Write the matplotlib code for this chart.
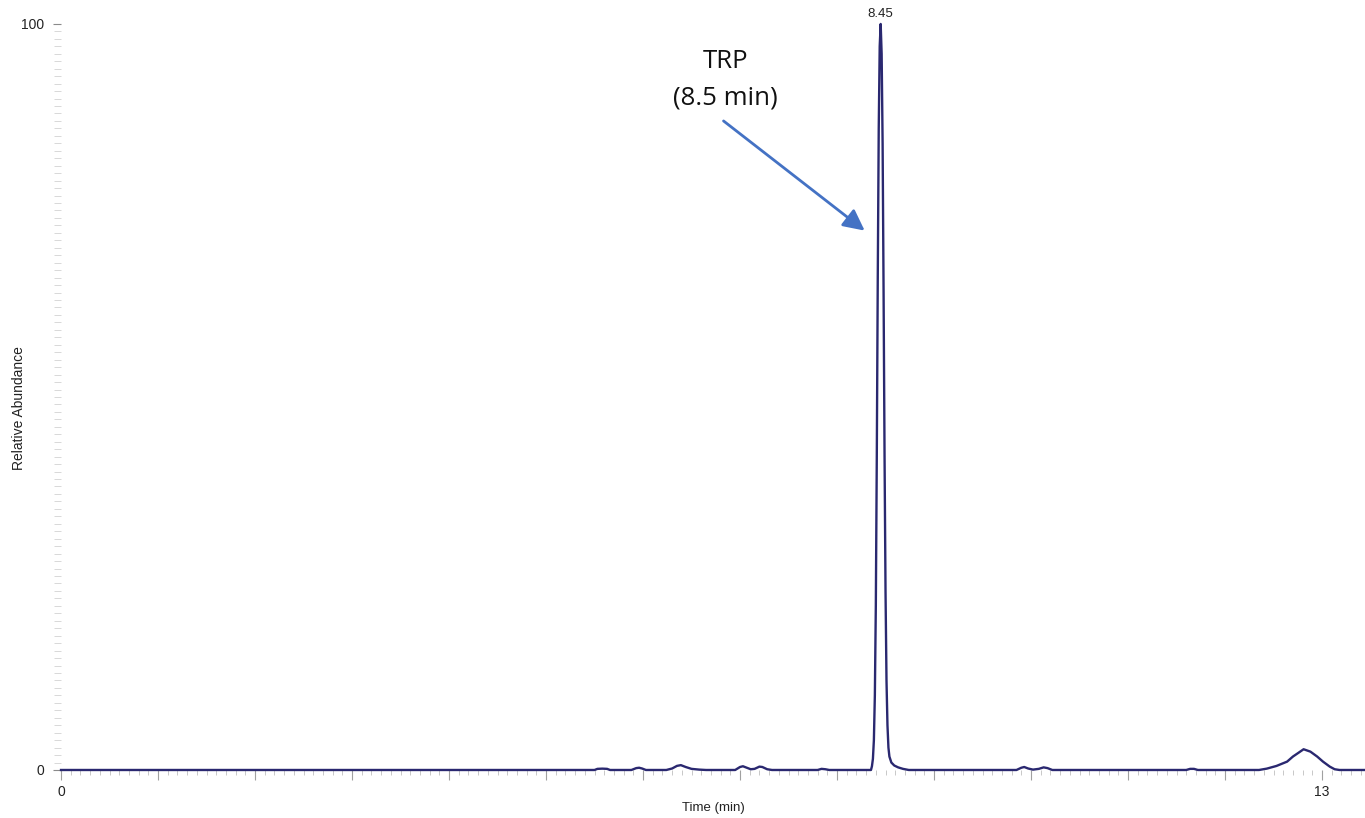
import numpy as np
import matplotlib.pyplot as plt
from matplotlib.ticker import FixedLocator, MultipleLocator

plt.rcParams['font.family'] = ['Liberation Sans', 'DejaVu Sans']

# TIC trace: retention time (min) and relative abundance (%)
rt_min = [
    0.00,
    5.50, 5.53, 5.58, 5.63, 5.66,
    5.88, 5.93, 5.96, 5.99, 6.03,
    6.24, 6.30, 6.35, 6.39, 6.44, 6.50, 6.58, 6.65,
    6.95, 7.00, 7.03, 7.07, 7.11, 7.15, 7.20, 7.23, 7.28, 7.33,
    7.80, 7.84, 7.88, 7.92,
    8.35, 8.36, 8.37, 8.38, 8.39, 8.40, 8.41, 8.42, 8.43, 8.44, 8.45,
    8.46, 8.47, 8.48, 8.49, 8.50, 8.51, 8.52, 8.53, 8.54, 8.56, 8.59,
    8.63, 8.68, 8.74,
    9.85, 9.90, 9.93, 9.97, 10.02, 10.08, 10.13, 10.17, 10.22,
    11.60, 11.64, 11.68, 11.72,
    12.35, 12.43, 12.53, 12.64, 12.70, 12.76, 12.81, 12.88, 12.95, 13.01,
    13.08, 13.13, 13.18,
    13.44,
]
rel_abund = [
    0.0,
    0.0, 0.15, 0.18, 0.15, 0.0,
    0.0, 0.25, 0.30, 0.20, 0.0,
    0.0, 0.20, 0.55, 0.65, 0.40, 0.15, 0.05, 0.0,
    0.0, 0.40, 0.50, 0.30, 0.10, 0.15, 0.45, 0.40, 0.10, 0.0,
    0.0, 0.15, 0.10, 0.0,
    0.0, 0.5, 1.5, 4.0, 10.0, 22.0, 42.0, 66.0, 86.0, 97.0, 100.0,
    96.0, 84.0, 64.0, 42.0, 24.0, 12.0, 6.0, 3.0, 1.8, 1.0, 0.6,
    0.35, 0.15, 0.0,
    0.0, 0.30, 0.40, 0.20, 0.05, 0.15, 0.35, 0.25, 0.0,
    0.0, 0.15, 0.15, 0.0,
    0.0, 0.18, 0.54, 1.12, 1.80, 2.33, 2.78, 2.46, 1.80, 1.12,
    0.45, 0.10, 0.0,
    0.0,
]

peak_rt = 8.45
peak_label = "8.45"
compound = "TRP\n(8.5 min)"

x_major = list(range(0, 14))
x_labels = {0: "0", 13: "13"}
y_labels = {0: "0", 100: "100"}

line_color = '#2a2870'
arrow_color = '#4472c4'

fig = plt.figure(figsize=(13.65, 8.18), dpi=100)
ax = fig.add_axes([0.0447, 0.0587, 0.9553, 0.912])

ax.plot(rt_min, rel_abund, color=line_color, lw=1.7, clip_on=False,
        solid_joinstyle='round')

ax.set_xlim(0, 13.443)
ax.set_ylim(0, 100)

for side in ['top', 'right', 'left', 'bottom']:
    ax.spines[side].set_visible(False)

# x ticks: every minute, labels only at the ends
ax.xaxis.set_major_locator(FixedLocator(x_major))
ax.set_xticklabels([x_labels.get(v, "") for v in x_major])
ax.xaxis.set_minor_locator(MultipleLocator(0.1))
ax.tick_params(axis='x', which='major', length=7, width=0.8, color='#a0a0a0',
               pad=4, labelsize=10, labelcolor='#222222')
ax.tick_params(axis='x', which='minor', length=3.5, width=0.7, color='#c8c8c8')

# y ticks: 0 and 100 labelled, fine ticks every 1 %
ax.yaxis.set_major_locator(FixedLocator(list(y_labels)))
ax.set_yticklabels(list(y_labels.values()))
ax.yaxis.set_minor_locator(MultipleLocator(1))
ax.tick_params(axis='y', which='major', length=6, width=0.8, color='#8a8a8a',
               pad=6, labelsize=10, labelcolor='#222222')
ax.tick_params(axis='y', which='minor', length=5, width=0.6, color='#d2d2d2')

ax.set_xlabel("Time (min)", fontsize=9.5, color='#222222')
ax.xaxis.set_label_coords(0.5, -0.043)
ax.set_ylabel("Relative Abundance", fontsize=10, color='#222222')
ax.yaxis.set_label_coords(-0.027, 0.485)

# retention time label on top of the main peak
ax.annotate(peak_label, xy=(peak_rt, 100), xytext=(0, 3),
            textcoords='offset points', ha='center', va='bottom',
            fontsize=9.5, color='#222222', annotation_clip=False)

# compound annotation with arrow pointing to the peak
ax.text(peak_rt - 1.60, 92.5, compound, ha='center', va='center',
        fontsize=18.5, family=['Open Sans', 'DejaVu Sans'],
        color='#111111', linespacing=1.6)
ax.annotate("", xy=(peak_rt - 0.165, 72.3), xytext=(peak_rt - 1.62, 87.0),
            arrowprops=dict(arrowstyle='-|>', color=arrow_color, lw=2.0,
                            mutation_scale=32, shrinkA=0, shrinkB=0))

fig.savefig('out.png', dpi=100)
